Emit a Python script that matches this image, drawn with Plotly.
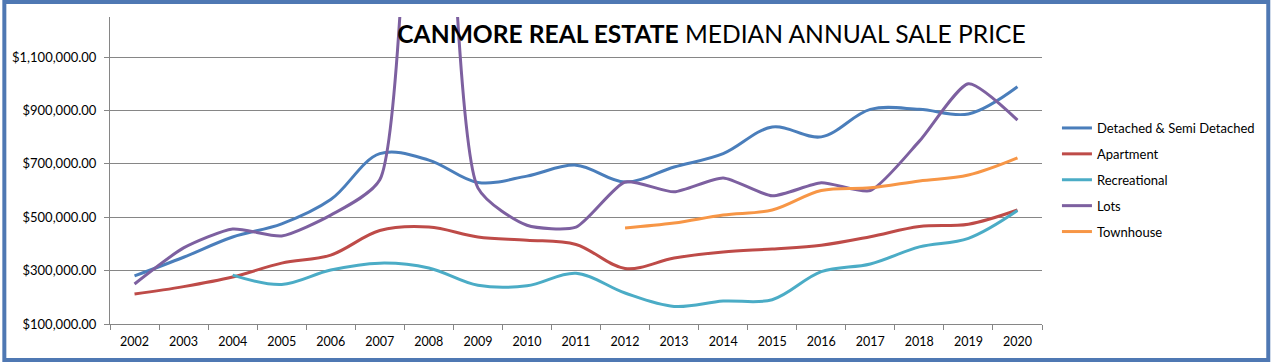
import plotly.graph_objects as go

years = [str(y) for y in range(2002, 2021)]

detached = [280000, 350000, 426000, 475000, 566000, 738000, 714000, 630000, 654000, 695000,
            632000, 688000, 738000, 838000, 801000, 904000, 904000, 887000, 989000]
apartment = [212000, 240000, 276000, 328000, 358000, 450000, 463000, 426000, 414000, 398000,
             308000, 347000, 370000, 381000, 395000, 427000, 465000, 474000, 527000]
recreational = [None, None, 283000, 248000, 302000, 328000, 310000, 245000, 243000, 290000,
                216000, 166000, 186000, 191000, 296000, 325000, 389000, 421000, 525000]
lots = [250000, 385000, 456000, 430000, 508000, 640000, 3600000, 610000, 470000, 463000,
        632000, 595000, 647000, 580000, 629000, 600000, 785000, 1000000, 864000]
townhouse = [None] * 10 + [460000, 478000, 508000, 527000, 600000, 610000, 636000, 658000, 722000]

series = [
    ("Detached & Semi Detached", detached, "#4A7EBB", 1.0),
    ("Apartment", apartment, "#BE4B48", 1.0),
    ("Recreational", recreational, "#4BACC6", 1.0),
    ("Lots", lots, "#7D60A0", 0.6),
    ("Townhouse", townhouse, "#F79646", 1.0),
]

y_ticks = [100000, 300000, 500000, 700000, 900000, 1100000]

FONT = "Lato"
W, H = 1272, 362
L, R, T, B = 108, 229, 17, 38
pw, ph = W - L - R, H - T - B

fig = go.Figure()
for i, (name, vals, col, sm) in enumerate(series):
    fig.add_trace(go.Scatter(
        x=years, y=vals, name=name, mode="lines", legendgroup=f"g{i}",
        line=dict(color=col, width=3, shape="spline", smoothing=sm),
        connectgaps=False,
    ))

def px_x(p):
    return (p - L) / pw

def px_y(p):
    return (H - B - p) / ph

fig.update_layout(
    width=W, height=H,
    margin=dict(l=L, r=R, t=T, b=B, pad=0),
    paper_bgcolor="white", plot_bgcolor="white",
    font=dict(family=FONT, size=13, color="#000000"),
    title=dict(
        text="<b>CANMORE REAL ESTATE</b> MEDIAN ANNUAL SALE PRICE",
        font=dict(family=FONT, size=24.6, color="#000000"),
        xref="container", yref="container",
        x=711.5 / W, y=1 - 34 / H, xanchor="center", yanchor="middle",
    ),
    xaxis=dict(
        type="category", range=[-0.5, 18.5],
        tickson="boundaries", ticks="outside", ticklen=5, tickcolor="#868686",
        showline=True, linecolor="#868686", linewidth=1,
        showgrid=False, zeroline=False,
        ticklabelstandoff=6,
        tickfont=dict(family=FONT, size=12.5, color="#000000"),
    ),
    yaxis=dict(
        range=[100000, 1250000],
        tickvals=y_ticks, tickformat="$,.2f",
        ticks="outside", ticklen=5, tickcolor="#868686",
        showline=True, linecolor="#868686", linewidth=1,
        showgrid=True, gridcolor="#868686", gridwidth=1,
        zeroline=False,
        ticklabelstandoff=5,
        tickfont=dict(family=FONT, size=13, color="#000000"),
    ),
    legend=dict(
        x=px_x(1058), y=px_y(180), xanchor="left", yanchor="middle",
        bgcolor="rgba(0,0,0,0)", borderwidth=0,
        font=dict(family=FONT, size=13, color="#000000"),
        itemwidth=30, traceorder="grouped", tracegroupgap=6,
    ),
    showlegend=True,
)

fig.add_shape(
    type="rect", xref="paper", yref="paper",
    x0=px_x(2), x1=px_x(W - 2), y0=px_y(H - 2), y1=px_y(2),
    line=dict(color="#4F78B3", width=4), fillcolor="rgba(0,0,0,0)", layer="above",
)

fig.write_html(
    "out.html",
    config={"displayModeBar": False},
    post_script="document.body.style.margin='0';",
)
